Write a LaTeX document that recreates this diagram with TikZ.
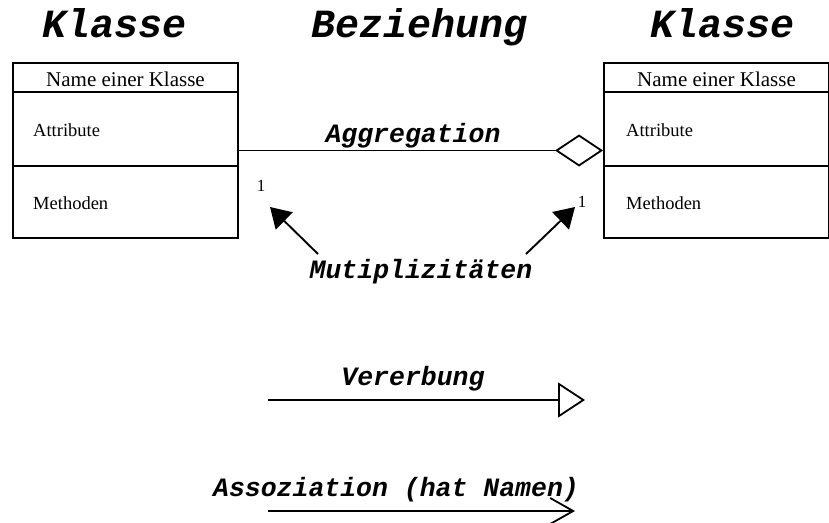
\documentclass[tikz,border=0pt]{standalone}
\usepackage{fontspec}
\setmainfont{Liberation Serif}
\newfontfamily\couriertitle{Liberation Mono}
\usetikzlibrary{arrows.meta}

\tikzset{
  x=1pt, y=-1pt,
  classbox/.style={draw, line width=1.8pt, minimum width=225pt, minimum height=175pt, inner sep=0pt},
  divider/.style={line width=1.8pt},
  classname/.style={font=\fontsize{21}{24}\selectfont, inner sep=0pt, anchor=base},
  member/.style={font=\fontsize{18.5}{21}\selectfont, anchor=base west, inner sep=0pt},
  heading/.style={font=\couriertitle\bfseries\itshape\fontsize{40}{44}\selectfont, inner sep=0pt, anchor=base},
  label/.style={font=\couriertitle\bfseries\itshape\fontsize{26.5}{30}\selectfont, inner sep=0pt, anchor=base},
  mult/.style={font=\fontsize{17}{20}\selectfont, inner sep=0pt, anchor=base},
  rel/.style={line width=1.8pt},
  pointer/.style={line width=1.9pt, -{Triangle[length=20pt,width=24pt]}},
}

\begin{document}
\begin{tikzpicture}
\useasboundingbox (0,0) rectangle (829,522);

% headings
\node[heading] (hl) at (115,37) {Klasse};
\node[heading] (hm) at (420,37) {Beziehung};
\node[heading] (hr) at (723,37) {Klasse};

% left class
\node[classbox] (L) at (125.5,150.5) {};
\draw[divider] (L.west |- 0,92) -- (L.east |- 0,92);
\draw[divider] (L.west |- 0,166) -- (L.east |- 0,166);
\node[classname] (Ln) at (125.5,86) {Name einer Klasse};
\node[member] (La) at (33,136) {Attribute};
\node[member] (Lm) at (33,209) {Methoden};

% right class
\node[classbox] (R) at (716.5,150.5) {};
\draw[divider] (R.west |- 0,92) -- (R.east |- 0,92);
\draw[divider] (R.west |- 0,166) -- (R.east |- 0,166);
\node[classname] (Rn) at (716.5,86) {Name einer Klasse};
\node[member] (Ra) at (626,136) {Attribute};
\node[member] (Rm) at (626,209) {Methoden};

% aggregation
\draw[rel, -{Diamond[open,length=48pt,width=32pt]}] (L.east) -- (R.west);
\node[label] (agg) at (413,142) {Aggregation};

% multiplicities
\node[mult] (m1) at (261,191) {1};
\node[mult] (m2) at (582,207) {1};
\node[label] (mlab) at (421,278) {Mutiplizitäten};
\coordinate (p1) at (270,207);
\coordinate (p2) at (575,207);
\coordinate (t1) at (318,254);
\coordinate (t2) at (526,254);
\draw[pointer] (t1) -- (p1);
\draw[pointer] (t2) -- (p2);

% inheritance
\node[label] (ver) at (413,385) {Vererbung};
\coordinate (v1) at (268,400);
\coordinate (v2) at (585,400);
\draw[rel, -{Triangle[open,length=27pt,width=35pt]}] (v1) -- (v2);

% association
\node[label] (ass) at (396,496) {Assoziation (hat Namen)};
\coordinate (a1) at (268,511);
\coordinate (a2) at (575,511);
\draw[rel, -{Straight Barb[length=23pt,width=26pt]}] (a1) -- (a2);
\end{tikzpicture}
\end{document}
